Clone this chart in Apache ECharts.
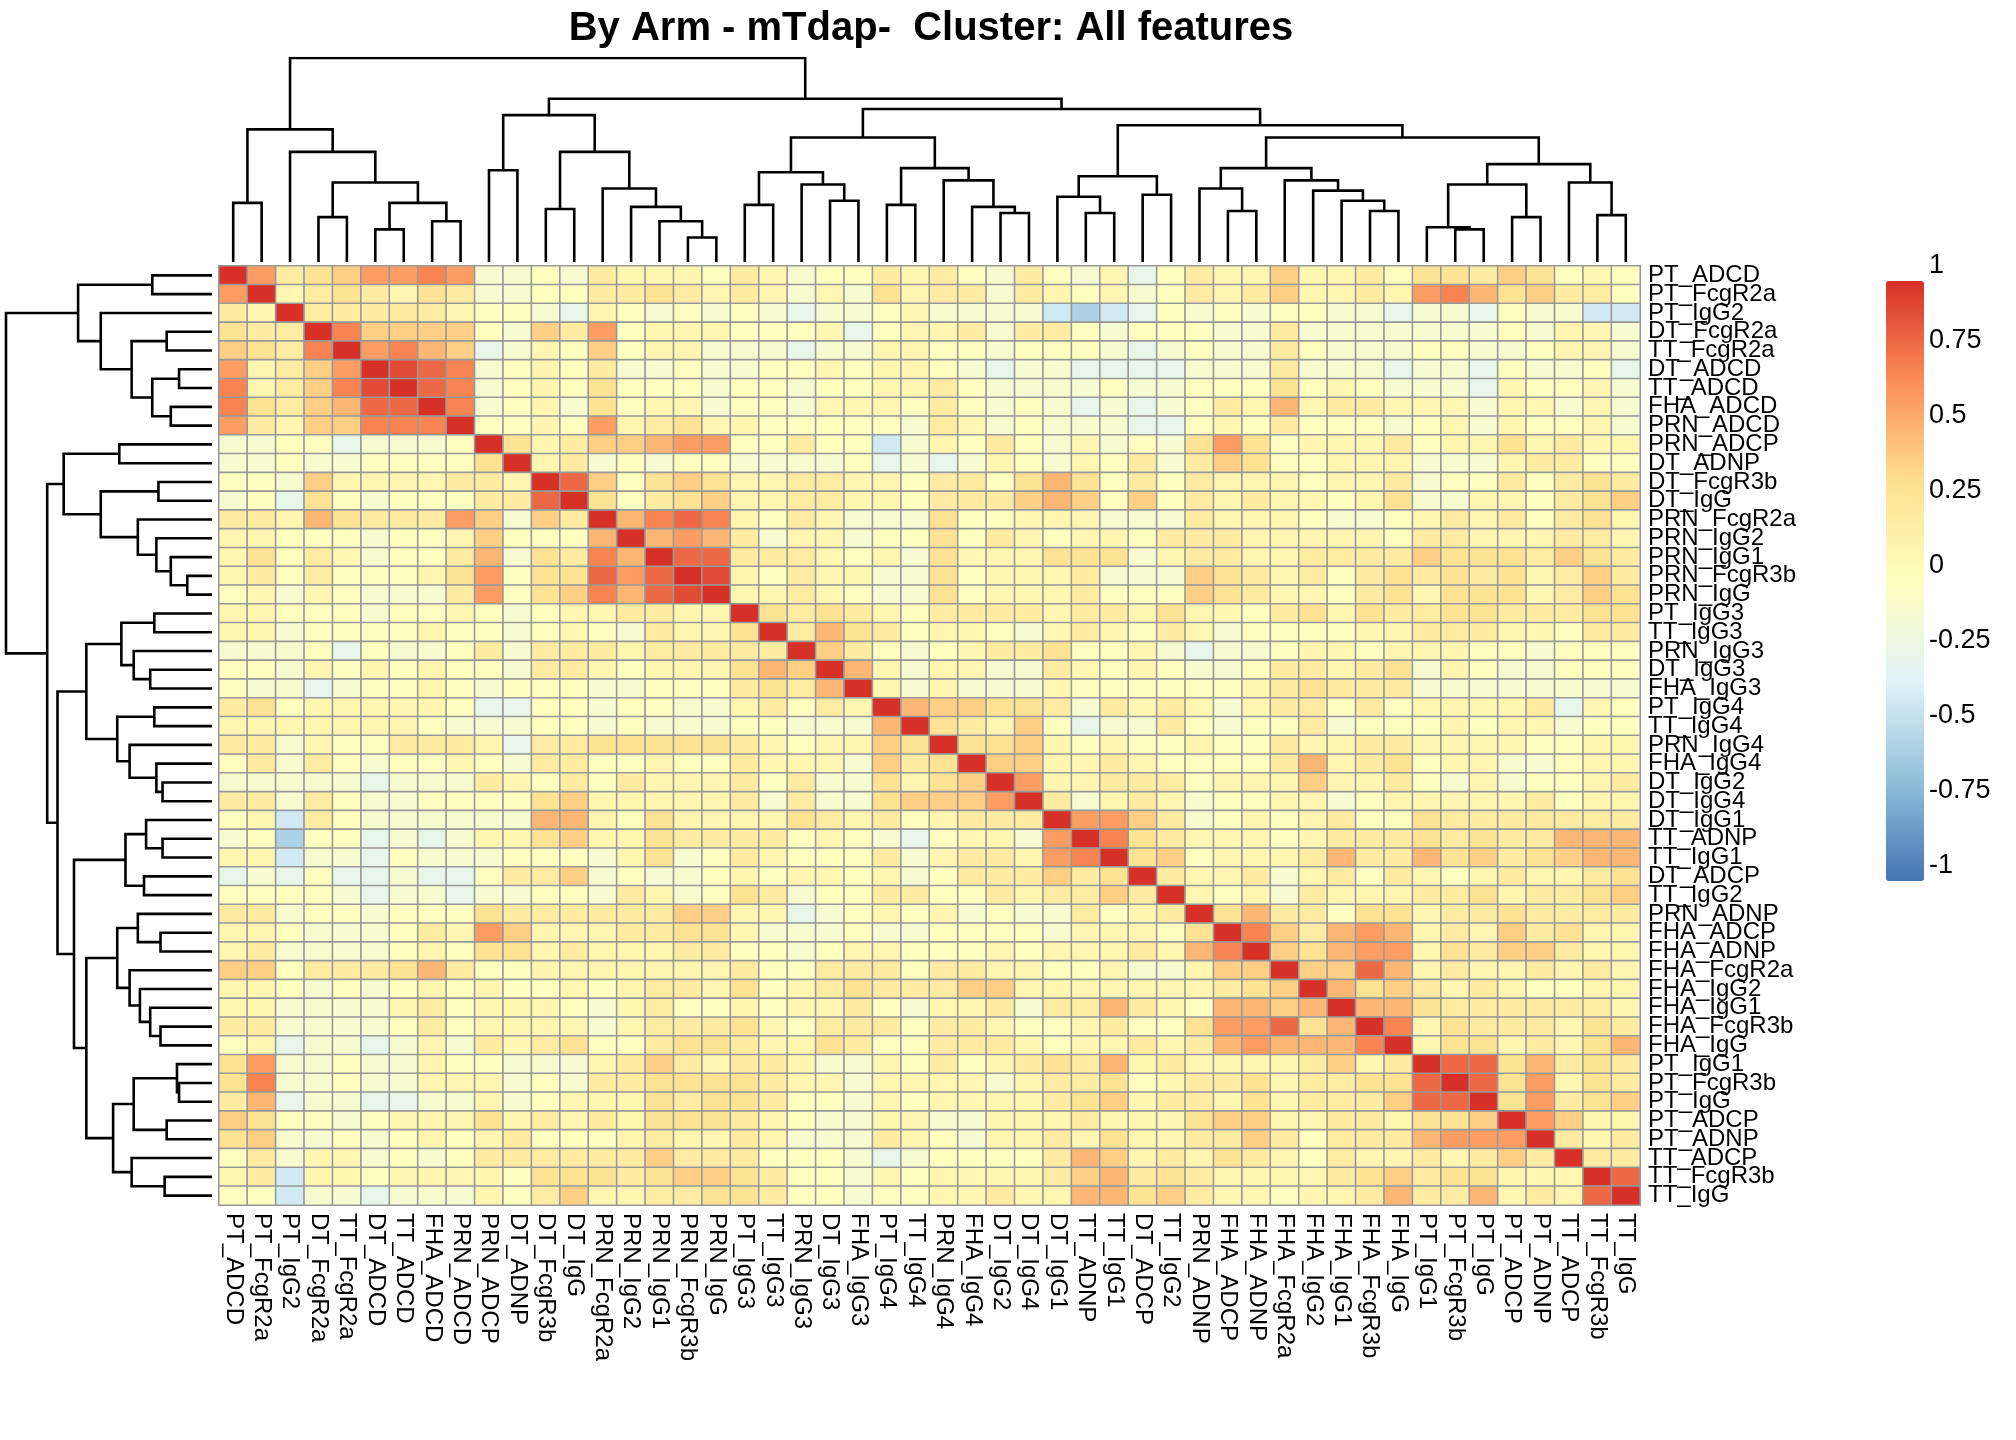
<!DOCTYPE html>
<html>
<head>
<meta charset="UTF-8">
<script src="https://cdn.jsdelivr.net/npm/echarts@6/dist/echarts.min.js"></script>
<style>html,body{margin:0;background:#fff}#chart{width:2016px;height:1440px}</style>
</head>
<body>
<div id="chart"></div>
<script>
// feature order (same for rows and columns)
var features = ["PT_ADCD","PT_FcgR2a","PT_IgG2","DT_FcgR2a","TT_FcgR2a","DT_ADCD","TT_ADCD","FHA_ADCD","PRN_ADCD",
  "PRN_ADCP","DT_ADNP","DT_FcgR3b","DT_IgG","PRN_FcgR2a","PRN_IgG2","PRN_IgG1","PRN_FcgR3b","PRN_IgG",
  "PT_IgG3","TT_IgG3","PRN_IgG3","DT_IgG3","FHA_IgG3","PT_IgG4","TT_IgG4","PRN_IgG4","FHA_IgG4","DT_IgG2","DT_IgG4",
  "DT_IgG1","TT_ADNP","TT_IgG1","DT_ADCP","TT_IgG2","PRN_ADNP","FHA_ADCP","FHA_ADNP","FHA_FcgR2a","FHA_IgG2",
  "FHA_IgG1","FHA_FcgR3b","FHA_IgG","PT_IgG1","PT_FcgR3b","PT_IgG","PT_ADCP","PT_ADNP","TT_ADCP","TT_FcgR3b","TT_IgG"];

// correlation, one char per cell:
// d=-0.55 c=-0.4 b=-0.25 a=-0.1, digit n = n/10, X = 1
var codes = {d:-0.55, c:-0.4, b:-0.25, a:-0.1, X:1};
// rows 1-25, all 50 columns
var topRows = [
  "X62346676aa0a"+"2111021a0021"+"20a20a1b02114"+"112033243010",
  "6X1232132aa00"+"2232121a1a31"+"22a2101a02124"+"112167534220",
  "21X22222100ab"+"10a0a0abaa01"+"aaaacdcb0a0a0"+"0aabaab0aacc",
  "322X744440a42"+"601110001b01"+"12a220a000aa2"+"aaaaaaa0a11a",
  "4327X6754ba10"+"4011aaabaa11"+"00a000aba0aa2"+"0aaa00aa011a",
  "61246X987a010"+"2aa0aa001011"+"0abaabbbbaaa2"+"aaabaab0aa0b",
  "712479X87a010"+"3000a00a0011"+"20aaaa0aa0003"+"010aaab1001a",
  "7324588X7a01a"+"3011a00a1110"+"20a0ababa0215"+"122111a11a1a",
  "62144777X0010"+"61231100000a"+"21a0aaabb0102"+"000a01a1001a",
  "aa00baaa0X312"+"4456600200ca"+"1020a1a0a3630"+"111201131211",
  "aa0aa00003X12"+"a0a00aaaa0ba"+"ba10a102a2430"+"0111aaa12200",
  "00a41111221X8"+"403431122110"+"2203530202111"+"0112a0020232",
  "a0b30a000228X"+"302341122110"+"2224540402121"+"1013aa110234",
  "2215322264a42"+"X57871021aaa"+"300111aaa2111"+"0aa012120231",
  "11000a0014000"+"5X5652a11a00"+"3021011022211"+"111022111221",
  "13021a0025a32"+"75X88222101a"+"3111333a12211"+"222243332432",
  "1202000136033"+"868X910211aa"+"301112aaa4321"+"202323231242",
  "01a10aaa26034"+"7589X11210aa"+"3011120004321"+"102313331243",
  "11000a0010a01"+"12211X323210"+"2222122131102"+"313223322233",
  "11a0000100a01"+"0a2113X25320"+"110a121021a00"+"001122211022",
  "aaa0b0aa02a22"+"2122222X420a"+"01223001abaa0"+"11011100a000",
  "00a1010100a22"+"10111354X51a"+"11aa21010aa02"+"2123a10aa000",
  "0aaba0010a000"+"aa0002325X1a"+"1aaa100000012"+"3222aaaaaaaa",
  "230111110bb00"+"a00aa12021X5"+"44332a2121a12"+"202011112b10",
  "11111110aaa00"+"a0aaa00aaa5X"+"32140baa20a00"+"2a0001011a00"
];
// rows 26-50, columns 26-50
var bottomRows = [
  "X334101001002"+"112211110011",
  "3X44112100002"+"5123011aa011",
  "34X6112220111"+"41120a1a0012",
  "446X2a121a001"+"1a0111112011",
  "1222X6642a010"+"120032222222",
  "011a6X7321110"+"122232322555",
  "122167X340111"+"252253423455",
  "0222423X2112a"+"120210121123",
  "00212242X101a"+"211122312234",
  "1a0aa2012X352"+"203312232222",
  "0000a11103X74"+"256512142311",
  "00101112157X4"+"356613244211",
  "2211001aa144X"+"448512112121",
  "2441111111234"+"X53421210011",
  "112a225210554"+"5X5532222221",
  "2210012003668"+"35X713222132",
  "2221011212565"+"557X13312135",
  "2012325121111"+"2412X8835232",
  "11a1223012231"+"22338X836132",
  "1111234122131"+"222488X36234",
  "aa11121113441"+"1221334X6411",
  "0a11213112242"+"02225666X212",
  "0000254121321"+"021121242X22",
  "1111245232111"+"1234233111X8",
  "1121155342110"+"11252251218X"
];

// dendrogram merges: [left, right, height]; leaves are 1-based positions
var treeLeft = [[1,2,0.29],[3,[[4,5,0.22],[[6,7,0.16],[8,9,0.2],0.29],0.39],0.54],0.65];
var treeR1 = [[10,11,0.45],[[12,13,0.26],[14,[15,[16,[17,18,0.12],0.2],0.27],0.36],0.54],0.72];
var treeIgG3 = [[19,20,0.28],[21,[22,23,0.3],0.38],0.44];
var treeIgG4 = [[24,25,0.28],[26,[27,[28,29,0.24],0.27],0.40],0.46];
var treeE = [[30,[31,32,0.24],0.32],[33,34,0.33],0.42];
var treeG = [[35,[36,37,0.25],0.36],[38,[39,[40,[41,42,0.25],0.3],0.35],0.4],0.46];
var treeH = [[[43,[44,45,0.16],0.17],[46,47,0.22],0.38],[48,[49,50,0.23],0.39],0.48];
var tree = [treeLeft, [treeR1, [[treeIgG3, treeIgG4, 0.61], [treeE, [treeG, treeH, 0.61], 0.67], 0.75], 0.80], 1.0];

var legendTicks = [-1, -0.75, -0.5, -0.25, 0, 0.25, 0.5, 0.75, 1];

function val(ch) {
  if (ch === undefined) return 0;
  if (codes[ch] !== undefined) return codes[ch];
  return Number(ch) / 10;
}
var n = features.length;
function cell(i, j) {
  if (i < 25) return val(topRows[i][j]);
  if (j < 25) return val(topRows[j][i]);
  return val(bottomRows[i - 25][j - 25]);
}
var heat = [];
for (var i = 0; i < n; i++) {
  for (var j = 0; j < n; j++) {
    heat.push([j, i, cell(i, j)]);
  }
}

// walk the tree, return [pos, height] and collect bracket polylines
var brackets = [];
function walk(node) {
  if (typeof node === "number") return [node - 0.5, 0];
  var a = walk(node[0]), b = walk(node[1]), h = node[2];
  brackets.push([[a[0], a[1]], [a[0], h], [b[0], h], [b[0], b[1]]]);
  return [(a[0] + b[0]) / 2, h];
}
walk(tree);
var topLines = brackets.map(function (c) { return { coords: c }; });
var leftLines = brackets.map(function (c) {
  return { coords: c.map(function (p) { return [p[1], p[0]]; }) };
});

var HL = 219, HT = 266, HW = 1421, HH = 939;
var font = "Liberation Sans, Arial, sans-serif";
var dendroStyle = { color: "#000", width: 2.6, opacity: 1 };

var chart = echarts.init(document.getElementById("chart"));
chart.setOption({
  backgroundColor: "#fff",
  animation: false,
  title: {
    text: "By Arm - mTdap-  Cluster: All features",
    left: 926, top: 4, textAlign: "center",
    textStyle: { fontFamily: font, fontSize: 40, fontWeight: "bold", color: "#000" }
  },
  grid: [
    { left: HL, top: HT, width: HW, height: HH },
    { left: HL, top: 58, width: HW, height: 204 },
    { left: 6, top: HT, width: 206, height: HH },
    { left: 1871, top: HT, width: 38, height: 600 }
  ],
  xAxis: [
    { type: "category", gridIndex: 0, data: features, position: "bottom",
      axisLine: { show: false }, axisTick: { show: false }, splitLine: { show: false },
      axisLabel: { rotate: -90, interval: 0, fontFamily: font, fontSize: 24, color: "#000", margin: 8 } },
    { type: "value", gridIndex: 1, min: 0, max: n, show: false },
    { type: "value", gridIndex: 2, min: 0, max: 1, inverse: true, show: false },
    { type: "value", gridIndex: 3, min: 0, max: 1, show: false }
  ],
  yAxis: [
    { type: "category", gridIndex: 0, data: features, inverse: true, position: "right",
      axisLine: { show: false }, axisTick: { show: false }, splitLine: { show: false },
      axisLabel: { interval: 0, fontFamily: font, fontSize: 24, color: "#000", margin: 8 } },
    { type: "value", gridIndex: 1, min: 0, max: 1, show: false },
    { type: "value", gridIndex: 2, min: 0, max: n, inverse: true, show: false },
    { type: "value", gridIndex: 3, min: -1, max: 1, interval: 0.25, position: "right",
      axisLine: { show: false }, axisTick: { show: false }, splitLine: { show: false },
      axisLabel: { fontFamily: font, fontSize: 27, color: "#000", margin: 20,
        formatter: function (v) { return legendTicks.indexOf(v) >= 0 ? String(v) : ""; } } }
  ],
  visualMap: {
    type: "continuous", min: -1, max: 1, seriesIndex: 0, calculable: false,
    left: 1871, top: HT, itemWidth: 38, itemHeight: 600, text: ["", ""], showLabel: false,
    inRange: { color: ["#4575B4", "#91BFDB", "#E0F3F8", "#FFFFBF", "#FEE090", "#FC8D59", "#D73027"] }
  },
  series: [
    { type: "heatmap", xAxisIndex: 0, yAxisIndex: 0, data: heat,
      itemStyle: { borderColor: "#999", borderWidth: 1.6 } },
    { type: "lines", coordinateSystem: "cartesian2d", xAxisIndex: 1, yAxisIndex: 1,
      polyline: true, data: topLines, lineStyle: dendroStyle, silent: true },
    { type: "lines", coordinateSystem: "cartesian2d", xAxisIndex: 2, yAxisIndex: 2,
      polyline: true, data: leftLines, lineStyle: dendroStyle, silent: true }
  ]
});
</script>
</body>
</html>
